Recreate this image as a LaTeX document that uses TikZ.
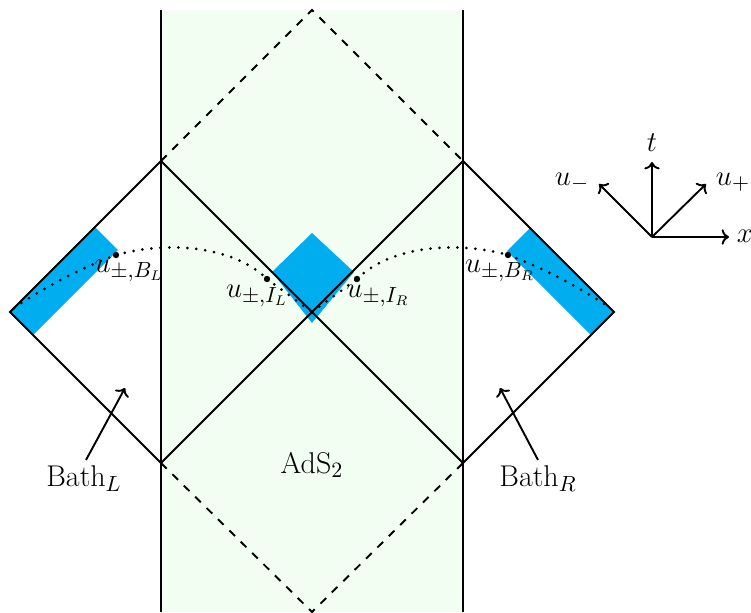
\documentclass[tikz,border=0pt]{standalone}
\usetikzlibrary{arrows.meta}
\definecolor{adsgreen}{rgb}{0.95,0.995,0.95}
\definecolor{blobblue}{RGB}{0,173,239}
\begin{document}
\begin{tikzpicture}[x=0.5pt,y=-0.5pt,
  font=\fontsize{15}{18}\selectfont,
  edge/.style={line width=0.95pt},
  horizon/.style={line width=0.95pt,dash pattern=on 4pt off 4pt},
  slice/.style={line width=1.5pt,line cap=round,dash pattern=on 0pt off 4.5pt},
  ptdot/.style={circle,fill=black,inner sep=0pt,minimum size=3.2pt},
  lbl/.style={inner sep=1pt},
  axis/.style={line width=0.95pt,->}]
\useasboundingbox (0,0) rectangle (751,612);
% background strip
\fill[adsgreen] (161,10) rectangle (463,612);
% blue regions
\fill[blobblue] (10,312) -- (95,227) -- (118,250) -- (33,335) -- cycle;
\fill[blobblue] (614,312) -- (530,228) -- (507,251) -- (591,335) -- cycle;
\fill[blobblue] (312,233) -- (354,272) -- (312,323) -- (272,272) -- cycle;
% key points
\coordinate (T) at (312,10);
\coordinate (TL) at (161,161);
\coordinate (TR) at (463,161);
\coordinate (C) at (312,312);
\coordinate (BLc) at (161,463);
\coordinate (BRc) at (463,463);
\coordinate (Bt) at (312,612);
\coordinate (L) at (10,312);
\coordinate (R) at (614,312);
\coordinate (VLt) at (161,10);
\coordinate (VLb) at (161,612);
\coordinate (VRt) at (463,10);
\coordinate (VRb) at (463,612);
% strip boundaries
\draw[edge] (VLt) -- (VLb);
\draw[edge] (VRt) -- (VRb);
% diamonds
\draw[edge] (TL) -- (BRc);
\draw[edge] (TR) -- (BLc);
\draw[edge] (TL) -- (L) -- (BLc);
\draw[edge] (TR) -- (R) -- (BRc);
\draw[horizon] (TL) -- (T) -- (TR);
\draw[horizon] (BLc) -- (Bt) -- (BRc);
% points
\node[ptdot] (pBL) at (116,255) {};
\node[ptdot] (pIL) at (267,279) {};
\node[ptdot] (pIR) at (357,279) {};
\node[ptdot] (pBR) at (508,255) {};
% time slice
\draw[slice] (14,308) .. controls (40,290) and (80,268) .. (pBL.center);
\draw[slice] (pBL.center) .. controls (170,240) and (235,247) .. (pIL.center);
\draw[slice] (pIL.center) -- (C);
\draw[slice] (C) -- (pIR.center);
\draw[slice] (pIR.center) .. controls (389,247) and (454,240) .. (pBR.center);
\draw[slice] (pBR.center) .. controls (544,268) and (584,290) .. (610,308);
% labels
\node[lbl] (lBL) at (129,271) {$u_{\pm,B_L}$};
\node[lbl] (lIL) at (257,296) {$u_{\pm,I_L}$};
\node[lbl] (lIR) at (378,296) {$u_{\pm,I_R}$};
\node[lbl] (lBR) at (500,271) {$u_{\pm,B_R}$};
\node[lbl] (ads) at (312,465) {AdS$_2$};
\node[lbl] (bathL) at (84,479) {Bath$_L$};
\node[lbl] (bathR) at (538,479) {Bath$_R$};
\coordinate (aL) at (125,388);
\coordinate (aR) at (500,388);
\coordinate (sL) at (86,460);
\coordinate (sR) at (538,460);
\draw[axis] (sL) -- (aL);
\draw[axis] (sR) -- (aR);
% axes
\coordinate (O) at (652,237);
\node[lbl] (tl) at (652,143) {$t$};
\node[lbl] (xl) at (745,236) {$x$};
\node[lbl] (upl) at (733,182) {$u_+$};
\node[lbl] (uml) at (572,182) {$u_-$};
\draw[axis] (O) -- (652,162);
\draw[axis] (O) -- (729,237);
\draw[axis] (O) -- (706,184);
\draw[axis] (O) -- (599,184);
\end{tikzpicture}
\end{document}
